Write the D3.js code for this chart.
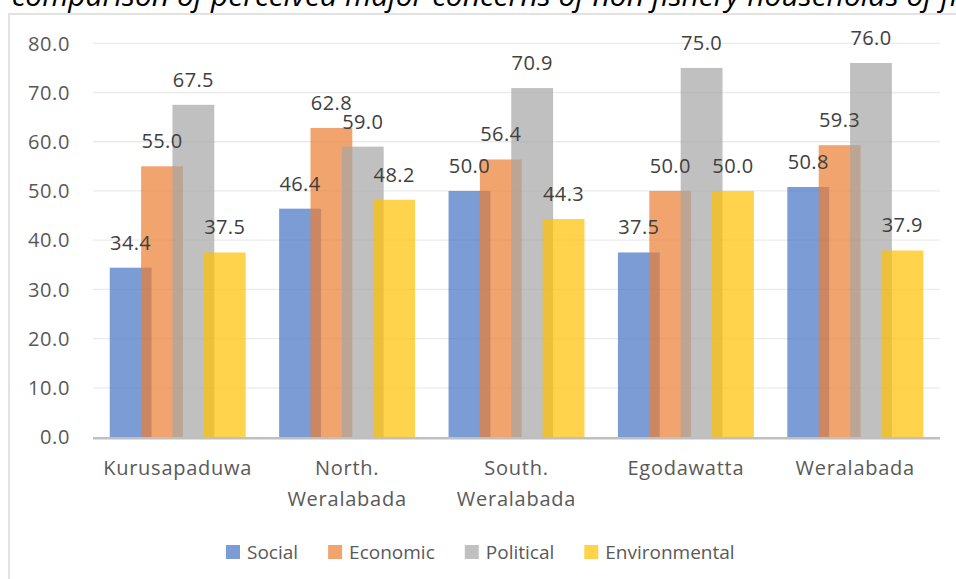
<!DOCTYPE html>
<html>
<head>
<meta charset="utf-8">
<script src="https://cdn.jsdelivr.net/npm/d3@7"></script>
<style>
  body { margin: 0; background: #fff; }
  svg { display: block; font-family: "Open Sans", sans-serif; }
</style>
</head>
<body>
<svg id="chart" width="956" height="579"></svg>
<script>
const categories = ['Kurusapaduwa', 'North. Weralabada', 'South. Weralabada', 'Egodawatta', 'Weralabada'];
const seriesNames = ['Social', 'Economic', 'Political', 'Environmental'];
const social = [34.4, 46.4, 50.0, 37.5, 50.8];
const economic = [55.0, 62.8, 56.4, 50.0, 59.3];
const political = [67.5, 59.0, 70.9, 75.0, 76.0];
const environmental = [37.5, 48.2, 44.3, 50.0, 37.9];
const yTicks = [0, 10, 20, 30, 40, 50, 60, 70, 80];
const colors = ['#4472C4', '#ED7D31', '#A5A5A5', '#FFC000'];
const titleText = 'r comparison of perceived major concerns of non fishery households of fishing villages';

const allSeries = [social, economic, political, environmental];

const svg = d3.select('#chart');

// chart frame (partly off the page)
svg.append('rect')
  .attr('x', 9).attr('y', 14)
  .attr('width', 1000).attr('height', 600)
  .attr('fill', 'none')
  .attr('stroke', '#D9D9D9')
  .attr('stroke-width', 1.5);

// caption, cut off at the top like the source image
svg.append('text')
  .attr('x', -8).attr('y', 6)
  .attr('font-size', 30)
  .attr('font-style', 'italic')
  .attr('fill', '#000')
  .text(titleText);

const plot = { left: 93, right: 940, top: 43.3, bottom: 437 };

const x = d3.scaleBand()
  .domain(categories)
  .range([plot.left, plot.right])
  .padding(0);

const y = d3.scaleLinear()
  .domain([0, 80])
  .range([plot.bottom, plot.top]);

// bars overlap by 25%, gap width 80%
const barW = x.bandwidth() / 4.05;
const step = barW * 0.75;
const span = step * 3 + barW;
const xs = d3.scalePoint()
  .domain(seriesNames)
  .range([-span / 2 + barW / 2, span / 2 - barW / 2]);

// gridlines
svg.append('g')
  .selectAll('line')
  .data(yTicks.filter(d => d > 0))
  .enter().append('line')
    .attr('x1', plot.left).attr('x2', plot.right)
    .attr('y1', d => y(d)).attr('y2', d => y(d))
    .attr('stroke', '#EBEBEB')
    .attr('stroke-width', 1.3);

// y tick labels
svg.append('g')
  .selectAll('text')
  .data(yTicks)
  .enter().append('text')
    .attr('x', 70)
    .attr('y', d => y(d))
    .attr('dy', '0.36em')
    .attr('text-anchor', 'end')
    .attr('font-size', 20)
    .attr('letter-spacing', 0.6)
    .attr('fill', '#595959')
    .text(d => d.toFixed(1));

// bars
seriesNames.forEach((name, si) => {
  const g = svg.append('g');
  g.selectAll('rect')
    .data(categories)
    .enter().append('rect')
      .attr('x', (c) => x(c) + x.bandwidth() / 2 + xs(name) - barW / 2)
      .attr('width', barW)
      .attr('y', (c, i) => y(allSeries[si][i]))
      .attr('height', (c, i) => plot.bottom - y(allSeries[si][i]))
      .attr('fill', colors[si])
      .attr('fill-opacity', 0.7);
});

// axis line
svg.append('line')
  .attr('x1', plot.left).attr('x2', plot.right)
  .attr('y1', plot.bottom + 1.2).attr('y2', plot.bottom + 1.2)
  .attr('stroke', '#BFBFBF')
  .attr('stroke-width', 2.4);

// data labels
seriesNames.forEach((name, si) => {
  svg.append('g')
    .selectAll('text')
    .data(categories)
    .enter().append('text')
      .attr('x', c => x(c) + x.bandwidth() / 2 + xs(name))
      .attr('y', (c, i) => y(allSeries[si][i]) - 18)
      .attr('text-anchor', 'middle')
      .attr('font-size', 20)
      .attr('letter-spacing', 0.4)
      .attr('fill', '#404040')
      .text((c, i) => allSeries[si][i].toFixed(1));
});

// category labels
const catG = svg.append('g');
categories.forEach(c => {
  const lines = c.split(' ');
  lines.forEach((ln, li) => {
    catG.append('text')
      .attr('x', x(c) + x.bandwidth() / 2)
      .attr('y', 475 + li * 31)
      .attr('text-anchor', 'middle')
      .attr('font-size', 20)
      .attr('letter-spacing', 0.75)
      .attr('fill', '#595959')
      .text(ln);
  });
});

// legend
const legend = svg.append('g');
let lx = 226;
seriesNames.forEach((name, si) => {
  legend.append('rect')
    .attr('x', lx).attr('y', 545)
    .attr('width', 14).attr('height', 14)
    .attr('fill', colors[si])
    .attr('fill-opacity', 0.7);
  const t = legend.append('text')
    .attr('x', lx + 21)
    .attr('y', 552)
    .attr('dy', '0.36em')
    .attr('font-size', 19)
    .attr('fill', '#595959')
    .text(name);
  lx += 21 + t.node().getComputedTextLength() + 30;
});
</script>
</body>
</html>
